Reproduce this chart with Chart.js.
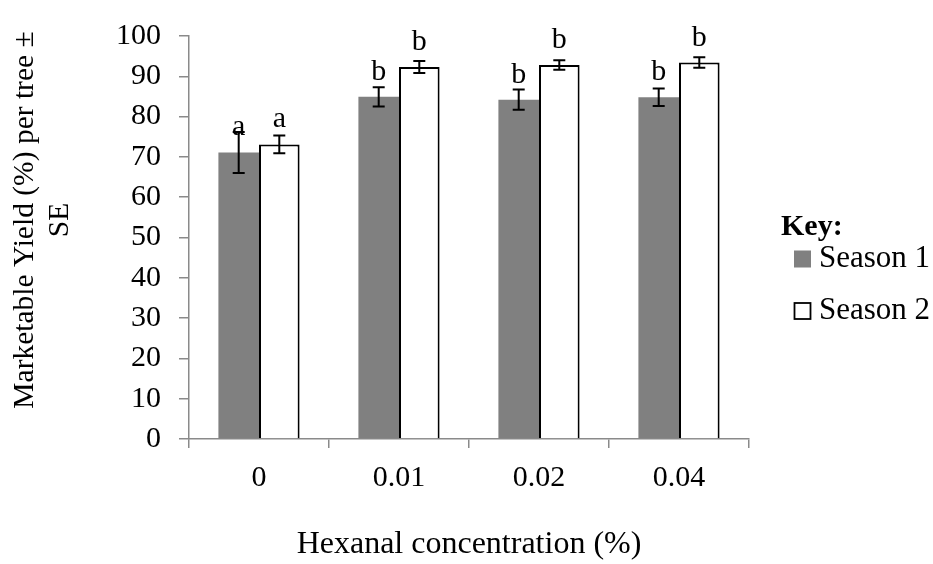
<!DOCTYPE html>
<html>
<head>
<meta charset="utf-8">
<script src="https://cdn.jsdelivr.net/npm/chart.js@4/dist/chart.umd.min.js"></script>
<style>
  html, body { margin: 0; padding: 0; background: #fff; }
  #c { display: block; }
</style>
</head>
<body>
<canvas id="c" width="933" height="564"></canvas>
<script>
const categories = ['0', '0.01', '0.02', '0.04'];
const season1 = [71.1, 84.9, 84.2, 84.8];
const season1Err = [5.1, 2.4, 2.5, 2.2];
const season1Letters = ['a', 'b', 'b', 'b'];
const season2 = [73.1, 92.3, 92.8, 93.4];
const season2Err = [2.2, 1.5, 1.2, 1.3];
const season2Letters = ['a', 'b', 'b', 'b'];
const yTicks = [0, 10, 20, 30, 40, 50, 60, 70, 80, 90, 100];
const yTitleLines = ['Marketable Yield (%) per tree \u00b1', 'SE'];
const xTitle = 'Hexanal concentration (%)';
const legendTitle = 'Key:';

const SERIF = "'Liberation Serif', 'Times New Roman', serif";
const AXIS_GREY = '#8a8a8a';

const errorBars = {
  id: 'errorBars',
  afterDatasetsDraw(chart) {
    const ctx = chart.ctx;
    const y = chart.scales.y;
    const errs = [season1Err, season2Err];
    const letters = [season1Letters, season2Letters];
    chart.data.datasets.forEach((ds, di) => {
      const meta = chart.getDatasetMeta(di);
      meta.data.forEach((bar, i) => {
        const v = ds.data[i];
        const e = errs[di][i];
        const yt = y.getPixelForValue(v + e);
        const yb = y.getPixelForValue(v - e);
        ctx.save();
        ctx.strokeStyle = '#000';
        ctx.lineWidth = 2;
        ctx.beginPath();
        ctx.moveTo(bar.x, yt); ctx.lineTo(bar.x, yb);
        ctx.moveTo(bar.x - 6, yt); ctx.lineTo(bar.x + 6, yt);
        ctx.moveTo(bar.x - 6, yb); ctx.lineTo(bar.x + 6, yb);
        ctx.stroke();
        ctx.fillStyle = '#000';
        ctx.font = '30px ' + SERIF;
        ctx.textAlign = 'center';
        ctx.textBaseline = 'alphabetic';
        ctx.fillText(letters[di][i], bar.x, y.getPixelForValue(v) - 17);
        ctx.restore();
      });
    });
  }
};

const extras = {
  id: 'extras',
  afterDraw(chart) {
    const ctx = chart.ctx;
    const area = chart.chartArea;
    ctx.save();
    // y axis title (two lines, rotated)
    ctx.fillStyle = '#000';
    ctx.font = '29.5px ' + SERIF;
    ctx.textAlign = 'center';
    ctx.textBaseline = 'middle';
    const cy = 220;
    [25, 60].forEach((x, k) => {
      ctx.save();
      ctx.translate(x, cy);
      ctx.rotate(-Math.PI / 2);
      ctx.fillText(yTitleLines[k], 0, 0);
      ctx.restore();
    });
    // legend with "Key:" heading
    ctx.textAlign = 'left';
    ctx.font = 'bold 30px ' + SERIF;
    ctx.fillText(legendTitle, 781, 227);
    ctx.font = '31px ' + SERIF;
    const rows = [259, 311];
    chart.data.datasets.forEach((ds, di) => {
      const ry = rows[di];
      ctx.fillStyle = ds.backgroundColor;
      ctx.fillRect(794, ry - 8.5, 17, 17);
      if (ds.borderWidth) {
        ctx.strokeStyle = ds.borderColor;
        ctx.lineWidth = 1.8;
        ctx.strokeRect(794.5, ry - 8, 16, 16);
      }
      ctx.fillStyle = '#000';
      ctx.fillText(ds.label, 819, ry);
    });
    ctx.restore();
  }
};

new Chart(document.getElementById('c'), {
  type: 'bar',
  data: {
    labels: categories,
    datasets: [
      { label: 'Season 1', data: season1, backgroundColor: '#808080', borderWidth: 0,
        categoryPercentage: 0.58, barPercentage: 1.0 },
      { label: 'Season 2', data: season2, backgroundColor: '#ffffff', borderColor: '#000000',
        borderWidth: 2, borderSkipped: 'start', categoryPercentage: 0.58, barPercentage: 1.0 }
    ]
  },
  options: {
    responsive: false,
    animation: false,
    layout: { padding: { left: 0, right: 184, top: 27, bottom: 0 } },
    plugins: { legend: { display: false }, tooltip: { enabled: false } },
    scales: {
      x: {
        afterFit(s) { s.height = 125; },
        grid: { drawOnChartArea: false, drawTicks: true, tickLength: 9, color: AXIS_GREY, lineWidth: 1.5, offset: true },
        border: { color: AXIS_GREY, width: 1.5 },
        ticks: { color: '#000', font: { family: SERIF, size: 30 }, padding: 12 },
        title: { display: true, text: xTitle, color: '#000',
                 font: { family: SERIF, size: 32, lineHeight: 1.2 }, padding: { top: 0, bottom: 0 } }
      },
      y: {
        min: 0, max: 100,
        afterFit(s) { s.width = 189; },
        afterBuildTicks(s) { s.ticks = yTicks.map(v => ({ value: v })); },
        grid: { drawOnChartArea: false, drawTicks: true, tickLength: 10, color: AXIS_GREY, lineWidth: 1.5 },
        border: { color: AXIS_GREY, width: 1.5 },
        ticks: { color: '#000', font: { family: SERIF, size: 30 }, padding: 18 },
        title: { display: false }
      }
    }
  },
  plugins: [errorBars, extras]
});
</script>
</body>
</html>
